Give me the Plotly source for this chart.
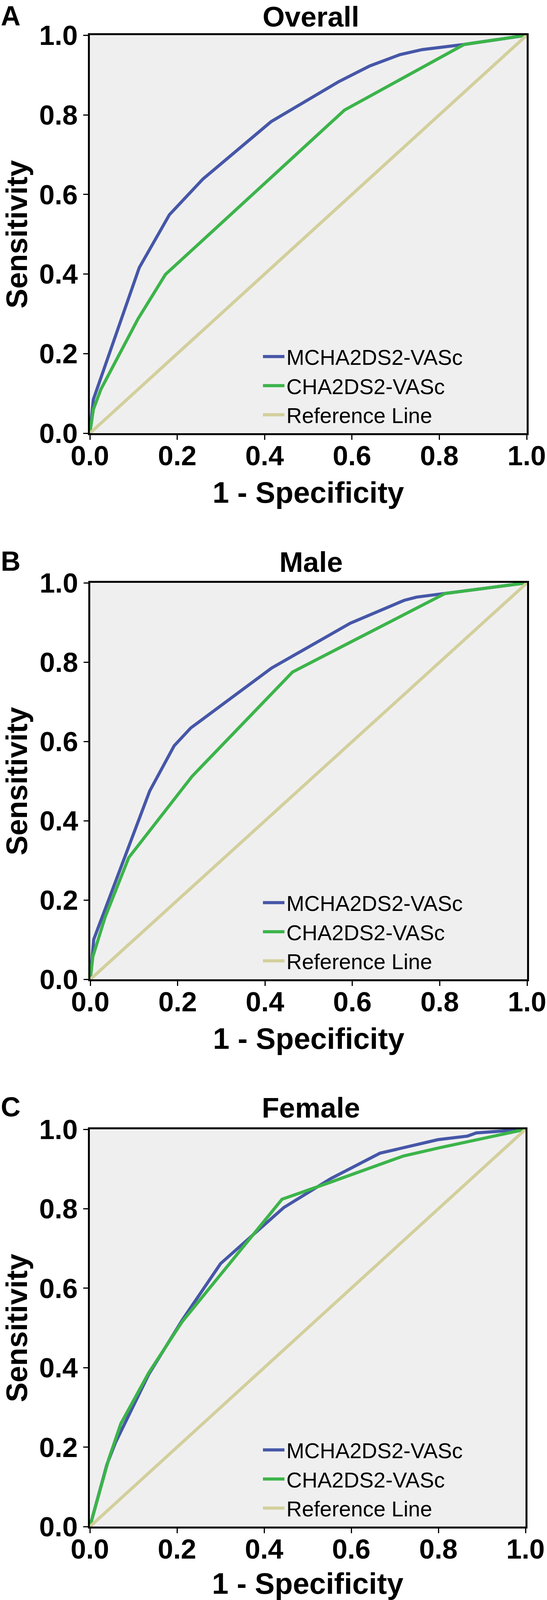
import plotly.graph_objects as go

# ---------------- data ----------------
panel_titles = ["Overall", "Male", "Female"]
panel_letters = ["A", "B", "C"]
series_names = ["MCHA2DS2-VASc", "CHA2DS2-VASc", "Reference Line"]
tick_vals = [0.0, 0.2, 0.4, 0.6, 0.8, 1.0]

overall_fpr_m = [0, 0.008, 0.113, 0.182, 0.259, 0.415, 0.569, 0.641, 0.709, 0.761, 0.857, 1.0]
overall_tpr_m = [0, 0.085, 0.416, 0.549, 0.639, 0.783, 0.883, 0.923, 0.951, 0.964, 0.977, 1.0]
overall_fpr_c = [0, 0.008, 0.025, 0.110, 0.173, 0.583, 0.857, 1.0]
overall_tpr_c = [0, 0.060, 0.110, 0.287, 0.399, 0.812, 0.977, 1.0]

male_fpr_m = [0, 0.008, 0.136, 0.192, 0.230, 0.415, 0.595, 0.719, 0.747, 0.811, 1.0]
male_tpr_m = [0, 0.101, 0.475, 0.589, 0.634, 0.785, 0.898, 0.956, 0.964, 0.973, 1.0]
male_fpr_c = [0, 0.006, 0.034, 0.088, 0.233, 0.463, 0.595, 0.812, 1.0]
male_tpr_c = [0, 0.058, 0.157, 0.307, 0.512, 0.775, 0.850, 0.973, 1.0]

female_fpr_m = [0, 0.039, 0.059, 0.135, 0.212, 0.300, 0.445, 0.553, 0.666, 0.799, 0.867, 0.887, 1.0]
female_tpr_m = [0, 0.156, 0.212, 0.383, 0.520, 0.662, 0.803, 0.876, 0.940, 0.974, 0.983, 0.991, 1.0]
female_fpr_c = [0, 0.043, 0.071, 0.135, 0.212, 0.441, 0.550, 0.720, 0.800, 1.0]
female_tpr_c = [0, 0.169, 0.259, 0.387, 0.516, 0.824, 0.866, 0.933, 0.953, 1.0]

ref_x = [0, 1]
ref_y = [0, 1]

panels = [
    (overall_fpr_m, overall_tpr_m, overall_fpr_c, overall_tpr_c),
    (male_fpr_m, male_tpr_m, male_fpr_c, male_tpr_c),
    (female_fpr_m, female_tpr_m, female_fpr_c, female_tpr_c),
]

# ---------------- styling / layout ----------------
W, H = 1400, 4494
FONT = "Liberation Sans, Arial, Helvetica, sans-serif"
colors = ["#4657a8", "#3cb44a", "#d3cf9c"]
LW = 8

# plot boxes in page pixels (left, top, right, bottom)
boxes = [(230, 99, 1348, 1217), (231, 1637, 1349, 2751), (230, 3172, 1345, 4288)]
# top edge of the panel title / panel letter text boxes
title_top = [0, 1532, 3064]


def px_x(v):
    return v / W


def px_y(v):
    return 1 - v / H


fig = go.Figure()
layout = dict(
    width=W, height=H, autosize=False,
    margin=dict(l=0, r=0, t=0, b=0, pad=0, autoexpand=False),
    paper_bgcolor="white",
    plot_bgcolor="#efefef",
    showlegend=True,
    font=dict(family=FONT, color="black"),
    annotations=[],
)

for i, (fm, tm, fc, tc) in enumerate(panels):
    n = "" if i == 0 else str(i + 1)
    xa, ya = "x" + n, "y" + n
    lg = "legend" + n
    for name, xs, ys, col in zip(series_names, [fm, fc, ref_x], [tm, tc, ref_y], colors):
        fig.add_trace(go.Scatter(
            x=xs, y=ys, mode="lines", name=name,
            line=dict(color=col, width=LW),
            xaxis=xa, yaxis=ya, legend=lg,
        ))
    l, t, r, b = boxes[i]
    axcommon = dict(
        range=[0, 1], tickvals=tick_vals, tickformat=".1f",
        showgrid=False, zeroline=False,
        showline=True, linecolor="black", linewidth=4.5, mirror=True,
        ticks="outside", ticklen=12, tickwidth=3, tickcolor="black",
        tickfont=dict(family=FONT, size=71, color="black", weight="bold"),
        fixedrange=True, automargin=False,
    )
    layout["xaxis" + n] = dict(
        axcommon, domain=[px_x(l), px_x(r)], anchor=ya,
        ticklabelstandoff=-20,
        title=dict(text="<b>1 - Specificity</b>", font=dict(family=FONT, size=76), standoff=30),
    )
    layout["yaxis" + n] = dict(
        axcommon, domain=[px_y(b), px_y(t)], anchor=xa,
        title=dict(text="<b>Sensitivity</b>", font=dict(family=FONT, size=76), standoff=12),
    )
    layout[lg] = dict(
        x=px_x(668), xanchor="left",
        y=px_y(b - 262), yanchor="top",
        bgcolor="rgba(0,0,0,0)", borderwidth=0,
        font=dict(family=FONT, size=55, color="black"),
        itemwidth=55, tracegroupgap=0,
    )
    layout["annotations"].append(dict(
        text="<b>" + panel_titles[i] + "</b>", x=px_x(796), y=px_y(title_top[i]),
        xref="paper", yref="paper", showarrow=False, xanchor="center", yanchor="top",
        font=dict(family=FONT, size=73, color="black"),
    ))
    layout["annotations"].append(dict(
        text="<b>" + panel_letters[i] + "</b>", x=px_x(0), y=px_y(title_top[i]),
        xref="paper", yref="paper", showarrow=False, xanchor="left", yanchor="top",
        font=dict(family=FONT, size=70, color="black"),
    ))

fig.update_layout(**layout)

# keep the whole figure inside the visible window (if the window is shorter than the figure)
fit_script = """
document.body.style.margin='0';
document.body.style.overflow='hidden';
var gd = document.getElementById('{plot_id}');
var h = window.innerHeight;
if (h && h > 1000 && h < %d) { Plotly.relayout(gd, {height: h}); }
""" % H

fig.write_html(
    "out.html",
    config={"displayModeBar": False},
    post_script=fit_script,
)
